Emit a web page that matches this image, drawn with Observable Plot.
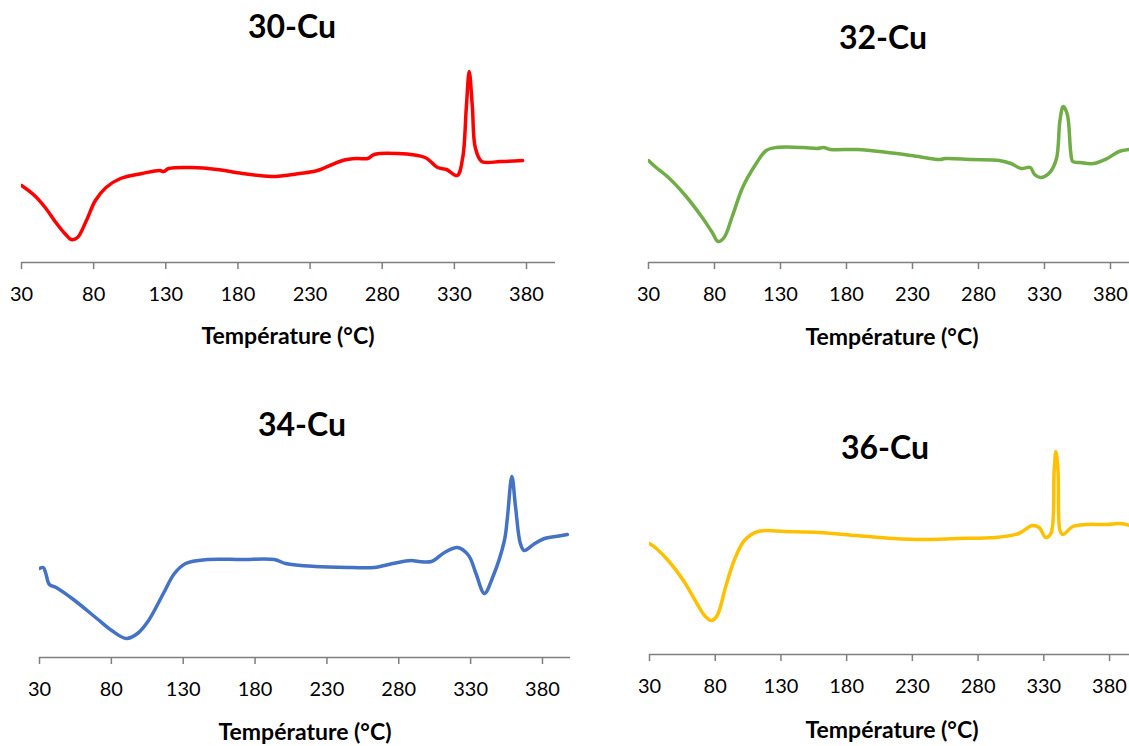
<!DOCTYPE html>
<html>
<head>
<meta charset="utf-8">
<script src="https://cdn.jsdelivr.net/npm/d3@7"></script>
<script src="https://cdn.jsdelivr.net/npm/@observablehq/plot@0.6"></script>
<style>
  html, body { margin: 0; padding: 0; background: #fff; }
  #root { position: relative; width: 1129px; height: 746px; overflow: hidden; background: #fff; font-family: Lato, "Open Sans", sans-serif; }
  .ttl { position: absolute; transform: translateX(-50%); white-space: nowrap; font-weight: 700; line-height: 1; color: #000; }
  .panel { position: absolute; }
</style>
</head>
<body>
<div id="root"></div>
<script>
// ---- data (temperature °C, DSC heat flow, arbitrary units) ----
const tickValues = [30, 80, 130, 180, 230, 280, 330, 380];
const axisTitle = "Température (°C)";

const titles = ["30-Cu", "32-Cu", "34-Cu", "36-Cu"];
const colors = ["#ff0000", "#70ad47", "#4472c4", "#ffc000"];

const temps30 = [30,39,46.4,53.8,60,64.5,68.8,75,81.2,88.6,98.6,113.5,125.9,128.4,132,148.2,165.6,183,202.9,222.8,235.2,252.6,262.5,270,274.4,289.8,309.7,318.4,324.6,332,335.8,338.3,340.3,342.5,344.5,349,361.9,377.3];
const flux30  = [0.77,0.67,0.55,0.40,0.29,0.23,0.25,0.42,0.62,0.75,0.84,0.89,0.92,0.91,0.94,0.95,0.93,0.89,0.86,0.89,0.92,1.02,1.04,1.04,1.08,1.09,1.05,0.95,0.93,0.87,1.05,1.55,1.91,1.55,1.15,1.01,1.01,1.02];

const temps32 = [30,34.9,45.1,57.9,70.7,78.3,82.7,87.3,93.7,101.3,111.6,119.2,126.9,147.4,157.6,162.7,167.8,188.3,211.3,229.2,250.9,254.8,275.2,295.7,304.6,312.3,319.2,322.5,327.1,334,339.1,341.7,344.2,347.3,349.9,351.4,357,367.3,377.5,386.4,394.1];
const flux32  = [1.02,0.96,0.85,0.67,0.45,0.30,0.21,0.25,0.47,0.75,0.99,1.12,1.15,1.15,1.14,1.15,1.13,1.13,1.10,1.07,1.03,1.04,1.03,1.02,0.99,0.94,0.95,0.88,0.85,0.90,1.04,1.42,1.56,1.48,1.10,1.01,1.00,0.99,1.04,1.11,1.13];

const temps34 = [30,32.6,34.4,36.9,41.6,54.5,69.9,80.2,90.5,98.2,105.9,116.2,123.9,131.7,147.1,170.3,193.4,201.2,221.8,247.5,263,275.8,288.7,293.8,302.8,311.8,320.9,328.6,333.7,339.6,345.3,353.5,355.6,358.7,361.3,364.6,367.2,373.7,381.4,389.1,397.3];
const flux34  = [0.89,0.90,0.84,0.73,0.70,0.57,0.39,0.27,0.19,0.24,0.37,0.64,0.84,0.94,0.98,0.98,0.98,0.94,0.91,0.90,0.90,0.94,0.97,0.96,0.96,1.05,1.10,1.02,0.84,0.64,0.80,1.17,1.40,1.81,1.50,1.14,1.07,1.13,1.19,1.21,1.23];

const temps36 = [30,35.2,44.2,55.8,66.1,72.5,77.2,81.5,88,94.4,102.2,112.5,133.1,158.9,187.2,215.5,238.7,264.5,292.9,310.9,321.2,326.4,331.5,335.4,337.9,339.2,340.8,342.3,344.4,352.1,362.4,377.9,388.2,395.4];
const flux36  = [1.11,1.06,0.94,0.74,0.51,0.38,0.34,0.39,0.68,0.94,1.14,1.23,1.23,1.22,1.19,1.16,1.15,1.16,1.17,1.21,1.29,1.27,1.17,1.21,1.84,2.03,1.84,1.24,1.20,1.28,1.30,1.30,1.31,1.29];

// ---- layout ----
const panels = [
  {temps: temps30, flux: flux30, left: 0,   top: 40,  w: 565, ml: 21, mr: 10, mt: 10, plotH: 212, xmax: 400.1,
   title: {x: 292, top: 9.5}, axisT: {x: 288, top: 323.6}},
  {temps: temps32, flux: flux32, left: 600, top: 40,  w: 529, ml: 48, mr: 0,  mt: 10, plotH: 212, xmax: 394.4,
   title: {x: 883, top: 20.6}, axisT: {x: 892, top: 324.6}},
  {temps: temps34, flux: flux34, left: 0,   top: 430, w: 580, ml: 39, mr: 10, mt: 10, plotH: 217, xmax: 399.5,
   title: {x: 302, top: 407.6}, axisT: {x: 305, top: 719.6}},
  {temps: temps36, flux: flux36, left: 600, top: 430, w: 529, ml: 49, mr: 0,  mt: 10, plotH: 214, xmax: 395.2,
   title: {x: 885, top: 430.6}, axisT: {x: 892, top: 717.6}}
];

const root = document.getElementById("root");
const MB = 50;

panels.forEach((p, i) => {
  const data = p.temps.map((t, k) => ({t, v: p.flux[k]}));
  const chart = Plot.plot({
    width: p.w,
    height: p.mt + p.plotH + MB,
    marginLeft: p.ml, marginRight: p.mr, marginTop: p.mt, marginBottom: MB,
    x: {domain: [30, p.xmax]},
    y: {domain: [0, p.plotH / 100], axis: null},
    style: {fontFamily: "Lato, 'Open Sans', sans-serif", fontSize: "20px", color: "#000", background: "transparent", overflow: "visible"},
    marks: [
      Plot.ruleY([0], {stroke: "#7f7f7f", strokeWidth: 1.5}),
      Plot.axisX(tickValues, {tickSize: 7, tickPadding: 17, stroke: "#7f7f7f", strokeWidth: 1.5, fill: "#000", fontSize: 20, label: null, tickFormat: d => String(d)}),
      Plot.line(data, {x: "t", y: "v", stroke: colors[i], strokeWidth: 3.5, curve: "catmull-rom", clip: true})
    ]
  });
  const wrap = document.createElement("div");
  wrap.className = "panel";
  wrap.style.left = p.left + "px";
  wrap.style.top = p.top + "px";
  wrap.appendChild(chart);
  root.appendChild(wrap);

  const t = document.createElement("div");
  t.className = "ttl";
  t.style.fontSize = "32px";
  t.style.left = p.title.x + "px";
  t.style.top = p.title.top + "px";
  t.textContent = titles[i];
  root.appendChild(t);

  const a = document.createElement("div");
  a.className = "ttl";
  a.style.fontSize = "23px";
  a.style.left = p.axisT.x + "px";
  a.style.top = p.axisT.top + "px";
  a.textContent = axisTitle;
  root.appendChild(a);
});
</script>
</body>
</html>
